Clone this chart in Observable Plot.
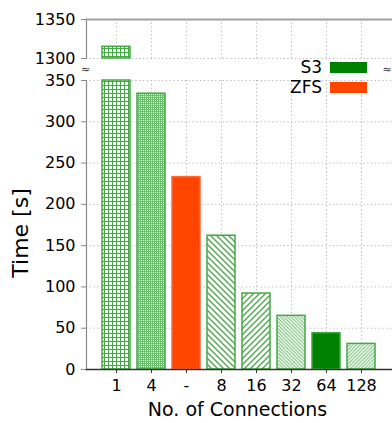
<!DOCTYPE html>
<html>
<head>
<meta charset="utf-8">
<script src="https://cdn.jsdelivr.net/npm/d3@7"></script>
<script src="https://cdn.jsdelivr.net/npm/@observablehq/plot@0.6"></script>
<style>
  body { margin: 0; background: #fff; font-family: "DejaVu Sans", sans-serif; }
  #wrap { position: relative; width: 392px; height: 423px; overflow: hidden; background: #fff; }
  #wrap svg { position: absolute; left: 0; }
  .legend { position: absolute; left: 0; top: 0; font-size: 17px; color: #000; }
  .legend .item { position: absolute; display: flex; align-items: center; }
  .legend .lab { text-align: right; width: 60px; margin-right: 8px; }
  .legend .sw { width: 37px; height: 11px; }
</style>
</head>
<body>
<div id="wrap"></div>
<script>
// ---- data ----
const labels   = ["1", "4", "-", "8", "16", "32", "64", "128"];
const times    = [1315, 334, 233, 162, 92, 65, 44, 31];
const systems  = ["S3", "S3", "ZFS", "S3", "S3", "S3", "S3", "S3"];
const hatches  = ["grid", "fineGrid", "solid", "back", "fwd", "backDense", "solid", "fwdDense"];
const lowerTicks = [0, 50, 100, 150, 200, 250, 300, 350];
const upperTicks = [1300, 1350];
const lowerRange = [0, 350];
const upperRange = [1300, 1350];
const legendItems = ["S3", "ZFS"];
const systemColors = {S3: "#008000", ZFS: "#ff4500"};
const xLabel = "No. of Connections";
const yLabel = "Time [s]";

const hatchColor = "#44a844";

const bars = labels.map((l, i) => ({
  label: l,
  value: times[i],
  fill: hatches[i] === "solid" ? systemColors[systems[i]] : `url(#h-${hatches[i]})`,
  stroke: hatches[i] === "solid" ? (systems[i] === "S3" ? "#3da83d" : "#ff6a3a") : hatchColor
}));
const lowerBars = bars.map(b => ({...b, y1: lowerRange[0], y2: Math.min(b.value, lowerRange[1])}));
const upperBars = bars.filter(b => b.value > upperRange[0]).map(b => ({...b, y1: upperRange[0], y2: Math.min(b.value, upperRange[1])}));

const gridStyle = {stroke: "#b5b5b5", strokeDasharray: "1.2,2.6", strokeWidth: 1};
const font = {fontFamily: "DejaVu Sans, sans-serif", background: "transparent", overflow: "visible", fontSize: "16px"};
const xScale = {domain: labels, range: [96.15, 381.75], paddingInner: 0.2, paddingOuter: 0.1, label: null};

// upper panel (1300–1350)
const upper = Plot.plot({
  width: 392, height: 61,
  marginLeft: 86, marginRight: 0, marginTop: 19, marginBottom: 3,
  style: font,
  x: {...xScale, axis: null},
  y: {domain: upperRange, label: null},
  color: {type: "identity"},
  marks: [
    Plot.ruleY(upperTicks, gridStyle),
    Plot.ruleX(labels, {x: d => d, ...gridStyle}),
    Plot.barY(upperBars, {x: "label", y1: "y1", y2: "y2", fill: "fill", stroke: "stroke", strokeWidth: 1.5}),
    Plot.frame({anchor: "left", stroke: "#8a8a8a", strokeWidth: 1.2}),
    Plot.frame({anchor: "top", stroke: "#a0a0a0", strokeWidth: 2}),
    Plot.axisY(upperTicks, {tickSize: 5, tickPadding: 6, fontSize: 16, stroke: "#888", fill: "black", tickFormat: d => String(d), label: null})
  ]
});

// lower panel (0–350)
const lower = Plot.plot({
  width: 392, height: 362,
  marginLeft: 86, marginRight: 0, marginTop: 19, marginBottom: 54,
  style: font,
  x: xScale,
  y: {domain: lowerRange, label: null},
  color: {type: "identity"},
  marks: [
    Plot.ruleY(lowerTicks, gridStyle),
    Plot.ruleX(labels, {x: d => d, ...gridStyle}),
    Plot.barY(lowerBars, {x: "label", y1: "y1", y2: "y2", fill: "fill", stroke: "stroke", strokeWidth: 1.5}),
    Plot.frame({anchor: "left", stroke: "#8a8a8a", strokeWidth: 1.2}),
    Plot.frame({anchor: "bottom", stroke: "#333", strokeWidth: 1.5}),
    Plot.axisY(lowerTicks, {tickSize: 5, tickPadding: 6, fontSize: 16, stroke: "#888", fill: "black", tickFormat: d => String(d), label: null}),
    Plot.axisX({tickSize: 4, tickPadding: 6, fontSize: 16, stroke: "#333", fill: "black", label: null}),
    Plot.text(["≈"], {frameAnchor: "top-left", dx: -1, dy: -11, fontSize: 11, fill: "#333", textAnchor: "middle", lineAnchor: "middle"}),
    Plot.text(["≈"], {frameAnchor: "top-right", dx: -10, dy: -11, fontSize: 11, fill: "#333", textAnchor: "start", lineAnchor: "middle"}),
    Plot.text([xLabel], {frameAnchor: "bottom", dx: -2, dy: 46, fontSize: 19, fill: "black", lineAnchor: "bottom", textAnchor: "middle"}),
    Plot.text([yLabel], {frameAnchor: "left", dx: -59, dy: 8, rotate: -90, fontSize: 22, fill: "black", lineAnchor: "bottom", textAnchor: "middle"})
  ]
});

// hatch pattern definitions
const defs = d3.select(lower).insert("defs", ":first-child");
function grid(id, size, sw, color) {
  const p = defs.append("pattern").attr("id", id).attr("patternUnits", "userSpaceOnUse")
    .attr("width", size).attr("height", size);
  p.append("rect").attr("width", size).attr("height", size).attr("fill", "white");
  p.append("path").attr("d", `M0,0.5H${size}M0.5,0V${size}`).attr("stroke", color).attr("stroke-width", sw)
    .attr("fill", "none").attr("shape-rendering", "crispEdges");
}
function diag(id, s, back, sw, color) {
  const d = back
    ? `M0,0L${s},${s}M${-s/2},${s/2}L${s/2},${s*1.5}M${s/2},${-s/2}L${s*1.5},${s/2}`
    : `M0,${s}L${s},0M${-s/2},${s/2}L${s/2},${-s/2}M${s/2},${s*1.5}L${s*1.5},${s/2}`;
  const p = defs.append("pattern").attr("id", id).attr("patternUnits", "userSpaceOnUse")
    .attr("width", s).attr("height", s);
  p.append("rect").attr("width", s).attr("height", s).attr("fill", "white");
  p.append("path").attr("d", d).attr("stroke", color).attr("stroke-width", sw).attr("fill", "none");
}
grid("h-grid", 4, 1.5, hatchColor);
grid("h-fineGrid", 2, 1, "#6cbf6c");
diag("h-back", 6, true, 1.3, hatchColor);
diag("h-fwd", 6, false, 1.3, hatchColor);
diag("h-backDense", 3.5, true, 0.9, "#5cb35c");
diag("h-fwdDense", 3.5, false, 0.9, "#5cb35c");

const wrap = document.getElementById("wrap");
lower.style.top = "61px";
upper.style.top = "0px";
wrap.appendChild(lower);
wrap.appendChild(upper);

// legend overlay
const leg = document.createElement("div");
leg.className = "legend";
legendItems.forEach((k, i) => {
  const it = document.createElement("div");
  it.className = "item";
  it.style.left = "262px";
  it.style.top = (57 + i * 20) + "px";
  it.innerHTML = `<span class="lab">${k}</span><span class="sw" style="background:${systemColors[k]}"></span>`;
  leg.appendChild(it);
});
wrap.appendChild(leg);
</script>
</body>
</html>
